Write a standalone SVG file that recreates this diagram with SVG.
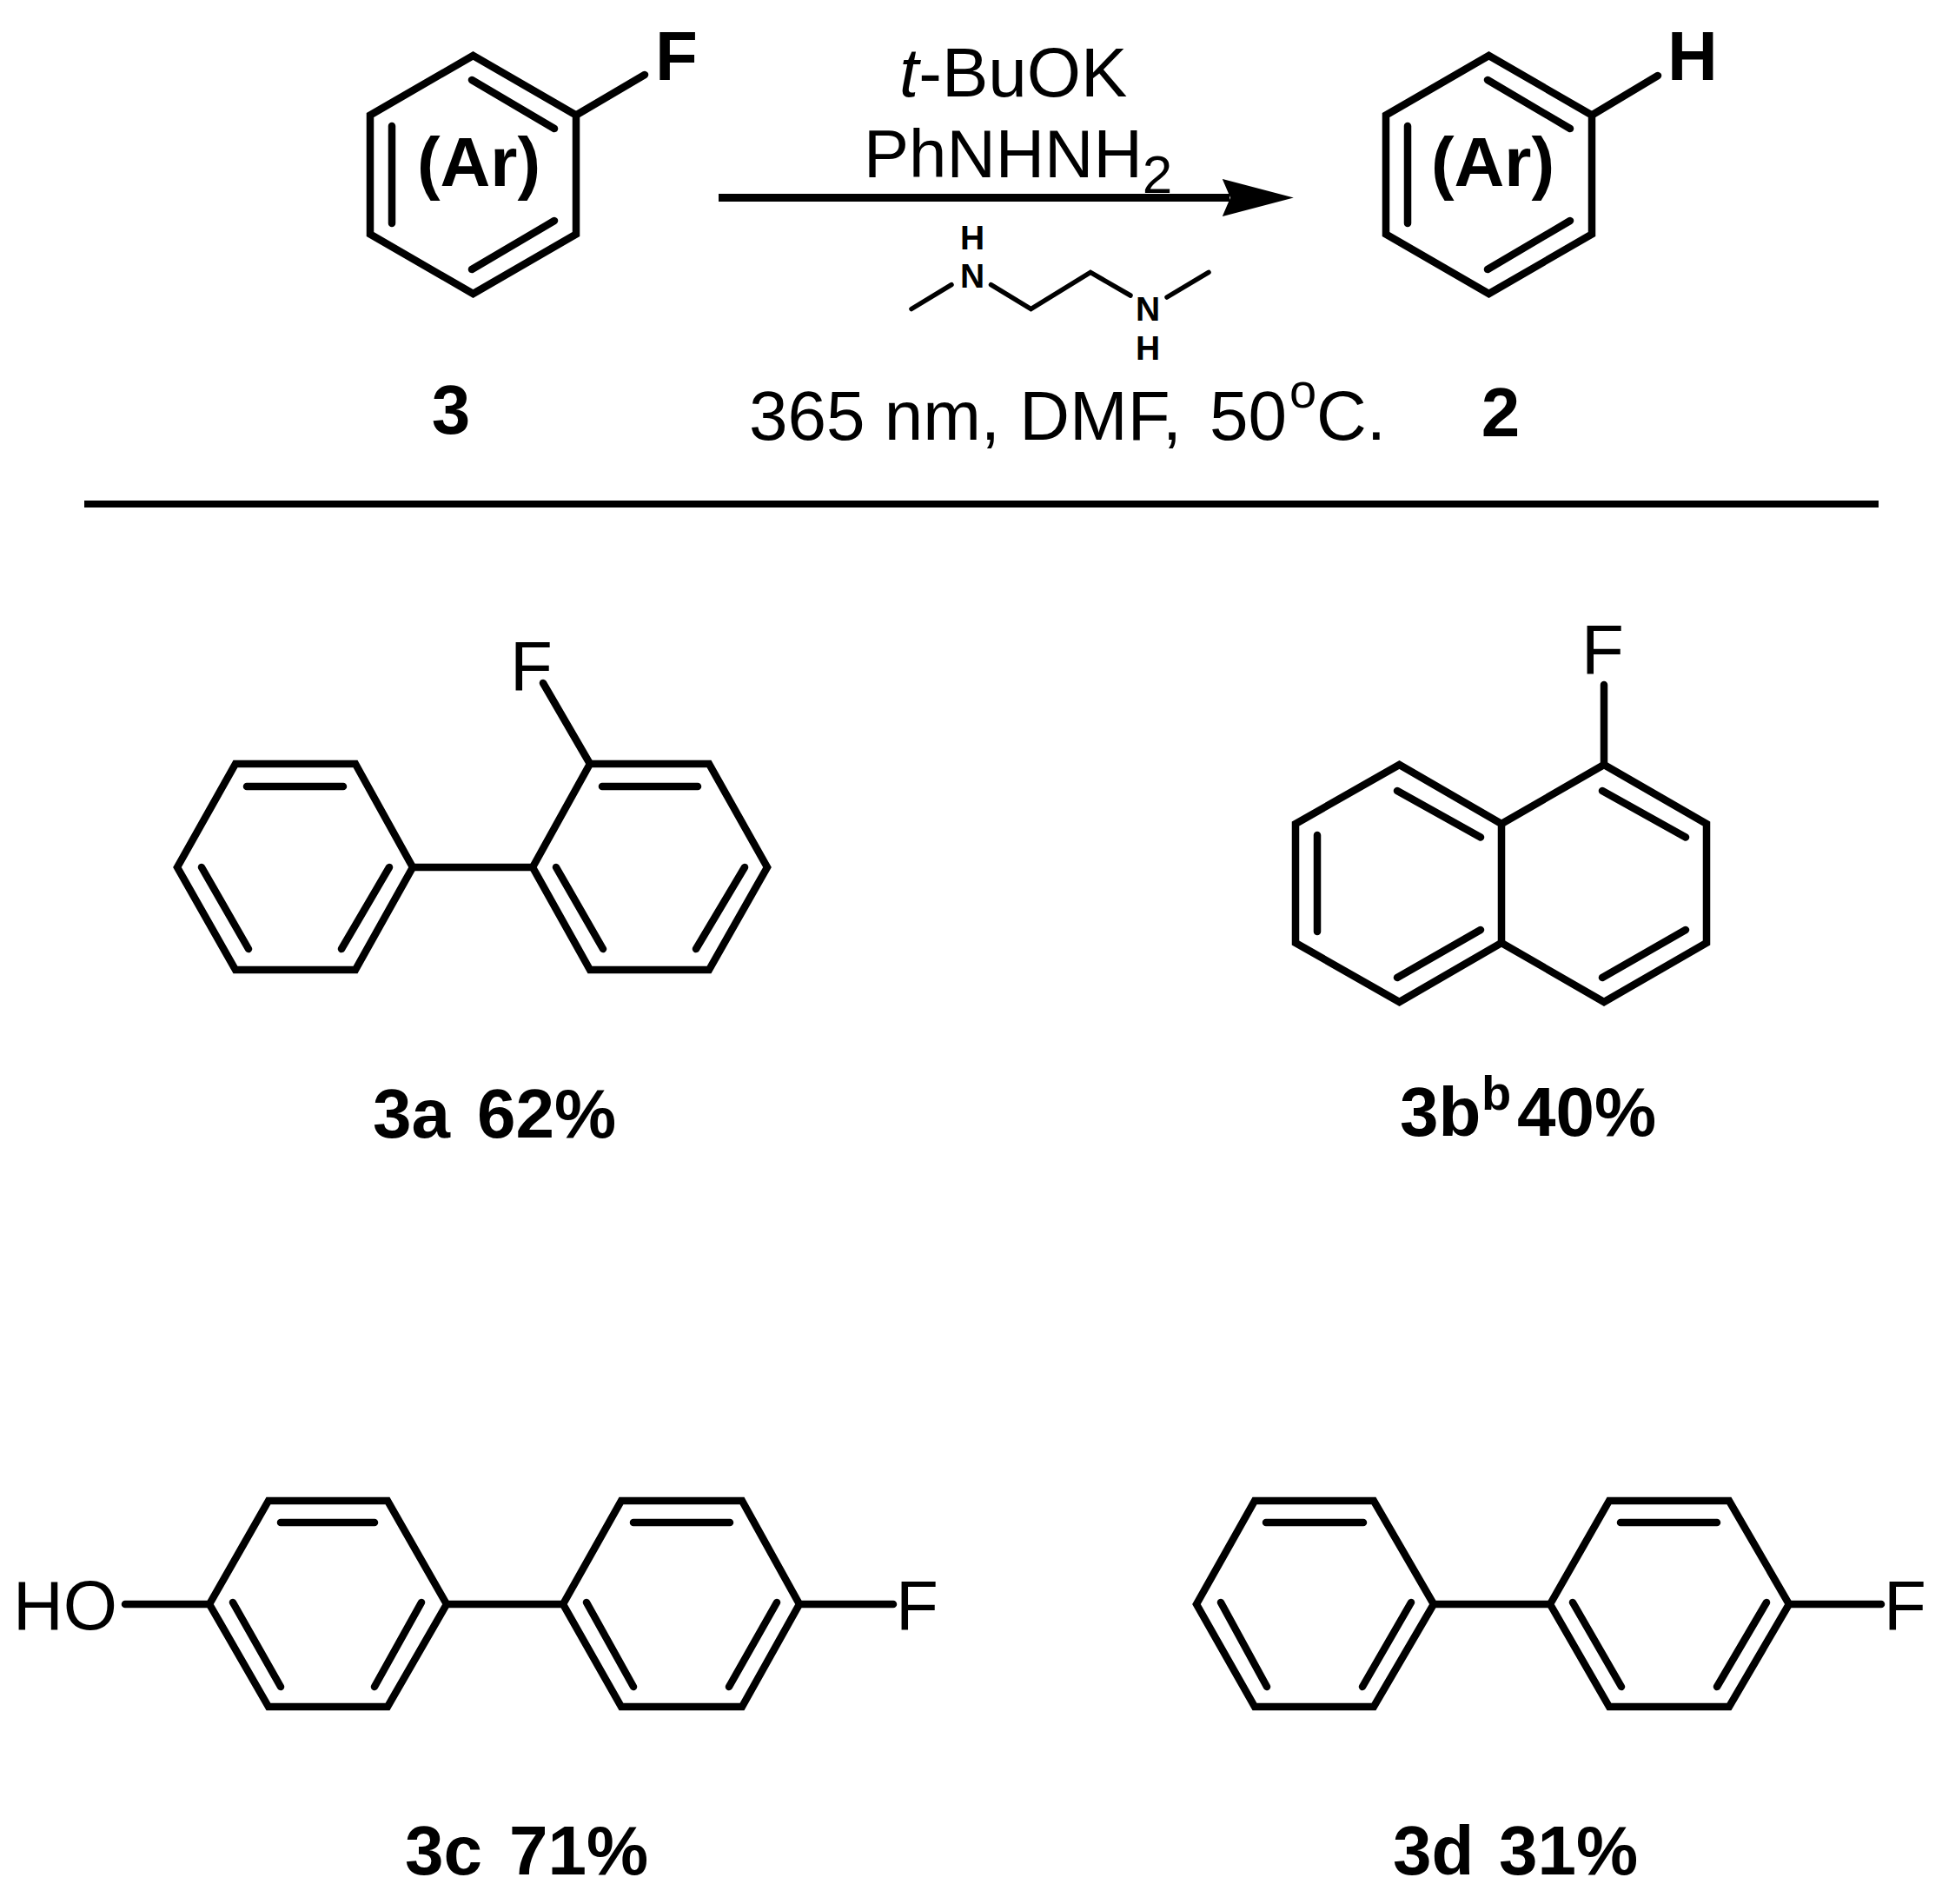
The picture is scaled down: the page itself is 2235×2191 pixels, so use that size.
<svg xmlns="http://www.w3.org/2000/svg" width="2235" height="2191" viewBox="0 0 2235 2191">
<style>
text{font-family:"Liberation Sans",Arial,sans-serif;font-size:80px;fill:#000}
.b{font-weight:bold}
.bond{fill:none;stroke:#000;stroke-width:8.5;stroke-linecap:round;stroke-linejoin:miter}
.thin{stroke-width:5.5}
.small{font-size:39px;font-weight:bold}
</style>
<defs>
<marker id="head" markerUnits="userSpaceOnUse" markerWidth="82" markerHeight="44" viewBox="0 0 80 42" refX="8" refY="21" orient="auto"><polygon points="0,0 80,21 0,42 9,21" fill="#000"/></marker>
</defs>
<rect width="2235" height="2191" fill="#fff"/>
<g id="connectors">
<line x1="827" y1="227.5" x2="1415" y2="227.5" stroke="#000" stroke-width="9" marker-end="url(#head)"/>
<line x1="97" y1="580" x2="2162" y2="580" stroke="#000" stroke-width="8"/>
</g>
<g id="compound-3">
<path class="bond" d="M544.5,64 663,132.5V269.5L544.5,338 426,269.5V132.5Z"/>
<path class="bond" d="M543,92 638,148M451,145V257M638,254 543,310M663,132.5 742,86"/>
<text class="b" x="754" y="92">F</text>
<text class="b" x="551" y="214" text-anchor="middle">(Ar)</text>
<text class="b" x="519" y="499" text-anchor="middle">3</text>
</g>
<g id="reagents">
<text x="1035" y="111"><tspan font-style="italic">t</tspan>-BuOK</text>
<text x="994" y="204" style="font-size:78px">PhNHNH<tspan dy="18" style="font-size:62px">2</tspan></text>
<path class="bond thin" d="M1049,355.5 1095,327.6M1140.5,327.6 1186.5,355.5 1255,313.4 1301,340M1343,342 1391,313.4"/>
<text class="small" x="1119" y="287" text-anchor="middle">H</text>
<text class="small" x="1119" y="331" text-anchor="middle">N</text>
<text class="small" x="1321" y="369" text-anchor="middle">N</text>
<text class="small" x="1321" y="414" text-anchor="middle">H</text>
<text x="862" y="506">365 nm, DMF, </text>
<text x="1392" y="506">50</text>
<text x="1484" y="469" style="font-size:56px">o</text>
<text x="1515" y="506">C.</text>
</g>
<g id="compound-2">
<path class="bond" d="M1713.5,64 1832,132.5V269.5L1713.5,338 1595,269.5V132.5Z"/>
<path class="bond" d="M1712,92 1807,148M1620,145V257M1807,254 1712,310M1832,132.5 1908,87"/>
<text class="b" x="1919" y="92">H</text>
<text class="b" x="1718" y="214" text-anchor="middle">(Ar)</text>
<text class="b" x="1727" y="502" text-anchor="middle">2</text>
</g>
<g id="compound-3a">
<path class="bond" d="M204,998 271,879H409L475,998 409,1116H271Z"/>
<path class="bond" d="M613,998 679,879H816L883,998 816,1116H679Z"/>
<path class="bond" d="M475,998H613M284,905H395M232,998 286,1092M448,998 393,1092M693,905H803M640,998 694,1092M857,998 801,1092M679,879 625,786"/>
<text x="587" y="794">F</text>
<text class="b" x="429" y="1309">3a</text>
<text class="b" x="549" y="1309">62%</text>
</g>
<g id="compound-3b">
<path class="bond" d="M1610.5,880 1728,948V1085L1610.5,1153 1491,1085V948Z"/>
<path class="bond" d="M1728,948 1846,880 1964,948V1085L1846,1153 1728,1085"/>
<path class="bond" d="M1608,910 1704,963.5M1516,961V1072M1704,1070 1608,1125M1844,910 1940,963.5M1940,1070 1844,1125M1846,880V788"/>
<text x="1820" y="775">F</text>
<text class="b" x="1611" y="1307">3b</text>
<text class="b" x="1705" y="1277" style="font-size:56px">b</text>
<text class="b" x="1746" y="1307">40%</text>
</g>
<g id="compound-3c">
<path class="bond" d="M241,1846 309,1727H446L514,1846 446,1964H309Z"/>
<path class="bond" d="M648,1846 715,1727H854L920,1846 854,1964H715Z"/>
<path class="bond" d="M144,1846H241M514,1846H648M920,1846H1028M323,1752H431M268,1844 323,1941M485,1844 431,1941M729,1752H840M675,1844 729,1941M894,1844 839,1941"/>
<text x="15" y="1875">HO</text>
<text x="1031" y="1875">F</text>
<text class="b" x="466" y="2157">3c</text>
<text class="b" x="586" y="2157">71%</text>
</g>
<g id="compound-3d">
<path class="bond" d="M1377,1846 1444,1727H1581L1650,1846 1581,1964H1444Z"/>
<path class="bond" d="M1784,1846 1852,1727H1990L2059,1846 1990,1964H1852Z"/>
<path class="bond" d="M1650,1846H1784M2059,1846H2165M1457,1752H1569M1405,1844 1458,1941M1624,1844 1568,1941M1865,1752H1976M1810,1844 1866,1941M2033,1844 1976,1941"/>
<text x="2168" y="1875">F</text>
<text class="b" x="1603" y="2157">3d</text>
<text class="b" x="1725" y="2157">31%</text>
</g>
</svg>
